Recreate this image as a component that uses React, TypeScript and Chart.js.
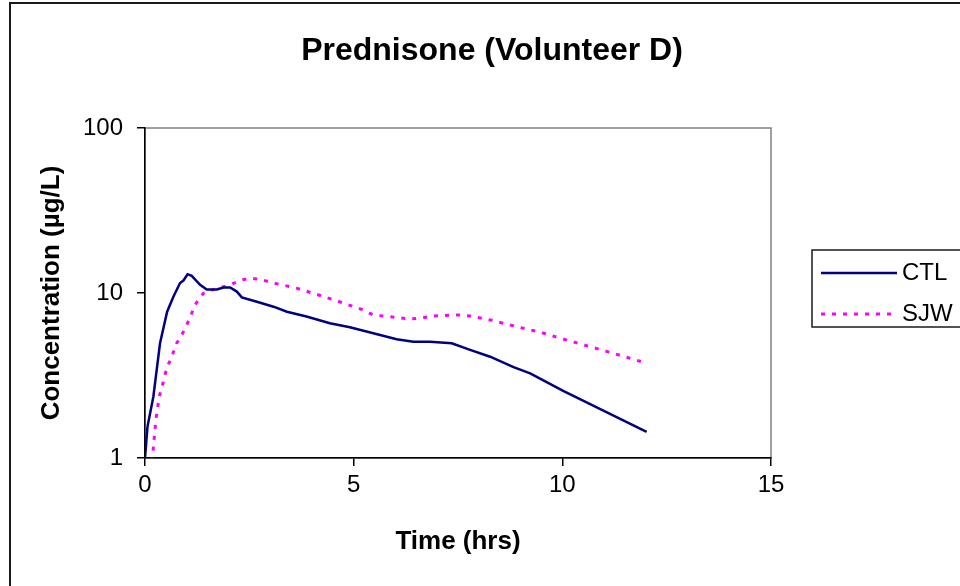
import React, { useEffect, useRef } from "react";
import { Chart, registerables } from "chart.js";

Chart.register(...registerables);

const TITLE = "Prednisone (Volunteer D)";
const X_TITLE = "Time (hrs)";
const Y_TITLE = "Concentration (µg/L)";
const SERIES_NAMES = ["CTL", "SJW"];

const CTL_TIME = [0, 0.06, 0.2, 0.36, 0.53, 0.68, 0.84, 0.92, 1.02, 1.12, 1.32, 1.48, 1.72, 1.88, 2.04, 2.2, 2.32, 2.68, 3.08, 3.4, 3.87, 4.43, 4.91, 6.03, 6.43, 6.83, 7.35, 7.79, 8.27, 8.83, 9.23, 9.5, 10.02, 12.02];
const CTL_CONC = [1.0, 1.55, 2.35, 4.96, 7.7, 9.5, 11.5, 11.9, 13.0, 12.7, 11.2, 10.5, 10.5, 10.8, 10.8, 10.2, 9.4, 8.86, 8.26, 7.7, 7.2, 6.55, 6.2, 5.24, 5.07, 5.07, 4.96, 4.52, 4.11, 3.55, 3.26, 3.0, 2.55, 1.44];

const SJW_TIME = [0.17, 0.26, 0.34, 0.44, 0.52, 0.64, 0.76, 0.88, 1.0, 1.09, 1.2, 1.4, 1.64, 2.04, 2.32, 2.52, 2.76, 3.08, 3.63, 4.03, 4.59, 5.23, 5.47, 6.35, 6.59, 6.91, 7.51, 7.79, 8.31, 8.91, 9.47, 10.02, 10.33, 11.14, 11.98];
const SJW_CONC = [0.95, 1.7, 2.35, 2.9, 3.5, 4.11, 4.96, 5.56, 6.4, 7.2, 8.5, 9.96, 10.5, 11.2, 12.0, 12.3, 12.1, 11.5, 10.7, 9.96, 8.98, 7.89, 7.36, 6.96, 7.03, 7.25, 7.36, 7.25, 6.83, 6.25, 5.78, 5.26, 5.0, 4.37, 3.78];

const X_TICKS = [0, 5, 10, 15];
const Y_TICKS = [1, 10, 100];

const FONT = '"Liberation Sans", Arial, Helvetica, sans-serif';

const decorPlugin = {
  id: "decor",
  beforeDraw(chart: any) {
    const { ctx, chartArea: a } = chart;
    ctx.save();
    ctx.fillStyle = "#ffffff";
    ctx.fillRect(0, 0, chart.width, chart.height);
    ctx.strokeStyle = "#1a1a1a";
    ctx.lineWidth = 2;
    ctx.strokeRect(10, 3, 1000, 1000);
    ctx.strokeStyle = "#808080";
    ctx.lineWidth = 1.5;
    ctx.strokeRect(a.left, a.top, a.right - a.left, a.bottom - a.top);
    ctx.fillStyle = "#000";
    ctx.font = `bold 32px ${FONT}`;
    ctx.textAlign = "center";
    ctx.textBaseline = "middle";
    ctx.fillText(TITLE, 492, 51);
    ctx.restore();
  },
  afterDraw(chart: any) {
    const { ctx } = chart;
    ctx.save();
    ctx.strokeStyle = "#1a1a1a";
    ctx.lineWidth = 1.5;
    ctx.strokeRect(812, 250, 300, 77);
    chart.data.datasets.forEach((ds: any, i: number) => {
      const y = 273 + i * 41;
      ctx.strokeStyle = ds.borderColor;
      ctx.lineWidth = ds.borderWidth;
      ctx.setLineDash(ds.borderDash || []);
      ctx.beginPath();
      ctx.moveTo(821, y);
      ctx.lineTo(897, y);
      ctx.stroke();
      ctx.setLineDash([]);
      ctx.fillStyle = "#000";
      ctx.font = `24px ${FONT}`;
      ctx.textAlign = "left";
      ctx.textBaseline = "middle";
      ctx.fillText(ds.label, 902, y);
    });
    ctx.restore();
  },
};

export default function App() {
  const ref = useRef<HTMLCanvasElement | null>(null);

  useEffect(() => {
    if (!ref.current) return;
    const chart = new Chart(ref.current, {
      type: "line",
      data: {
        datasets: [
          {
            label: SERIES_NAMES[0],
            data: CTL_TIME.map((t, i) => ({ x: t, y: CTL_CONC[i] })),
            borderColor: "#000080",
            borderWidth: 2.5,
            pointRadius: 0,
            tension: 0,
            fill: false,
          },
          {
            label: SERIES_NAMES[1],
            data: SJW_TIME.map((t, i) => ({ x: t, y: SJW_CONC[i] })),
            borderColor: "#ff00ff",
            borderWidth: 3,
            borderDash: [4, 7],
            pointRadius: 0,
            tension: 0,
            fill: false,
          },
        ],
      },
      options: {
        animation: false,
        responsive: false,
        devicePixelRatio: 1,
        layout: { padding: { top: 128, left: 0, right: 189, bottom: 0 } },
        plugins: {
          legend: { display: false },
          title: { display: false },
          tooltip: { enabled: false },
        },
        scales: {
          x: {
            type: "linear",
            min: 0,
            max: 15,
            afterFit: (s: any) => {
              s.height = 128;
            },
            afterBuildTicks: (s: any) => {
              s.ticks = X_TICKS.map((v) => ({ value: v }));
            },
            ticks: {
              color: "#000",
              font: { size: 24, family: FONT },
              padding: 5,
              maxRotation: 0,
              callback: (v: any) => String(v),
            },
            grid: {
              drawOnChartArea: false,
              drawTicks: true,
              tickLength: 8,
              color: "#000",
              lineWidth: 1.5,
            },
            border: { display: true, color: "#000", width: 1.5 },
            title: {
              display: true,
              text: X_TITLE,
              color: "#000",
              font: { size: 26, weight: "bold", family: FONT },
              padding: { top: 0, bottom: 29 },
            },
          },
          y: {
            type: "logarithmic",
            min: 1,
            max: 100,
            afterFit: (s: any) => {
              s.width = 145;
            },
            afterBuildTicks: (s: any) => {
              s.ticks = Y_TICKS.map((v) => ({ value: v }));
            },
            ticks: {
              color: "#000",
              font: { size: 24, family: FONT },
              padding: 14,
              callback: (v: any) => String(v),
            },
            grid: {
              drawOnChartArea: false,
              drawTicks: true,
              tickLength: 8,
              color: "#000",
              lineWidth: 1.5,
            },
            border: { display: true, color: "#000", width: 1.5 },
            title: {
              display: true,
              text: Y_TITLE,
              color: "#000",
              font: { size: 26, weight: "bold", family: FONT },
              padding: { top: 36, bottom: 0 },
            },
          },
        },
      },
      plugins: [decorPlugin],
    } as any);
    return () => chart.destroy();
  }, []);

  return (
    <div style={{ position: "fixed", left: 0, top: 0, width: 960, height: 586 }}>
      <canvas ref={ref} width={960} height={586} style={{ width: 960, height: 586, display: "block" }} />
    </div>
  );
}
